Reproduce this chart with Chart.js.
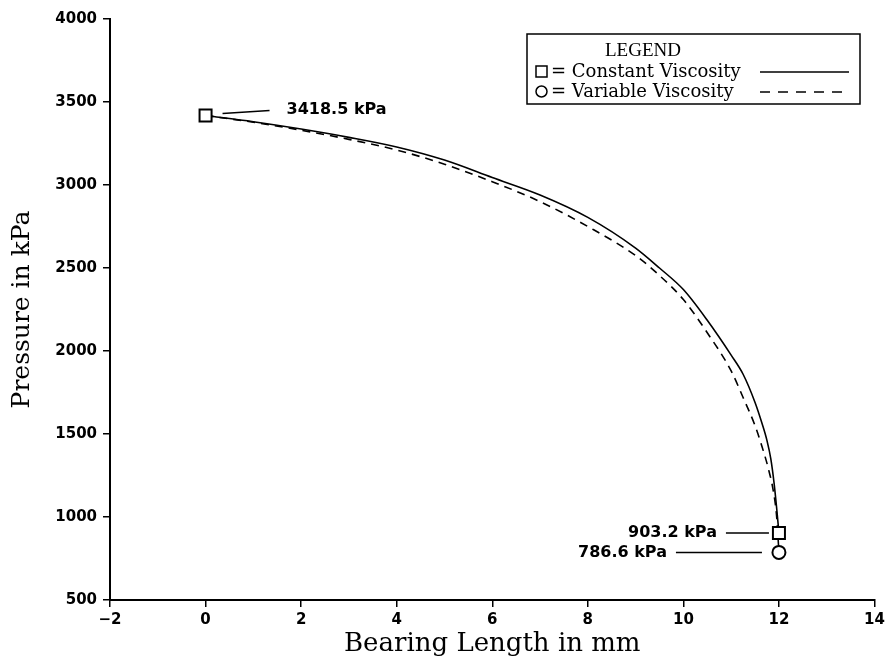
<!DOCTYPE html>
<html>
<head>
<meta charset="utf-8">
<script src="https://cdn.jsdelivr.net/npm/chart.js@4"></script>
<style>
  html, body { margin: 0; padding: 0; background: #fff; }
  #wrap { width: 885px; height: 662px; }
</style>
</head>
<body>
<div id="wrap"><canvas id="myChart" width="885" height="662"></canvas></div>
<script>
// Bearing length (mm) and pressure (kPa)
const constLength = [0, 1, 2, 3, 4, 5, 6, 7, 8, 9, 9.5, 10, 10.5, 11, 11.25, 11.5, 11.65, 11.75, 11.83, 11.9, 11.95, 12];
const constPressure = [3418.5, 3381, 3337, 3287, 3229, 3150, 3045, 2940, 2805, 2620, 2500, 2370, 2185, 1975, 1860, 1690, 1560, 1460, 1350, 1200, 1060, 903.2];

const varLength = [0, 1, 2, 3, 4, 5, 6, 7, 8, 9, 9.5, 10, 10.5, 11, 11.25, 11.5, 11.65, 11.78, 11.88, 11.95, 12];
const varPressure = [3418.5, 3378, 3330, 3275, 3211, 3125, 3020, 2900, 2750, 2575, 2455, 2310, 2110, 1880, 1720, 1550, 1420, 1290, 1160, 1010, 786.6];

const xTicks = [-2, 0, 2, 4, 6, 8, 10, 12, 14];
const yTicks = [500, 1000, 1500, 2000, 2500, 3000, 3500, 4000];

const seriesNames = ['Constant Viscosity', 'Variable Viscosity'];

const tickFont = { family: 'DejaVu Sans', weight: 'bold', size: 15 };
const serif = 'DejaVu Serif';

function toPoints(xs, ys) {
    return xs.map((v, i) => ({ x: v, y: ys[i] }));
}

// labels next to the end points, legend box
const notesPlugin = {
    id: 'notes',
    afterDraw(chart) {
        const ctx = chart.ctx;
        const x = chart.scales.x;
        const y = chart.scales.y;
        ctx.save();
        ctx.strokeStyle = '#000';
        ctx.fillStyle = '#000';
        ctx.lineWidth = 1.5;

        // start value
        const sx = x.getPixelForValue(constLength[0]);
        const sy = y.getPixelForValue(constPressure[0]);
        ctx.beginPath();
        ctx.moveTo(sx + 17, sy - 2);
        ctx.lineTo(sx + 64, sy - 5);
        ctx.stroke();
        ctx.font = 'bold 16px DejaVu Sans';
        ctx.textBaseline = 'middle';
        ctx.textAlign = 'left';
        ctx.fillText(constPressure[0] + ' kPa', sx + 81, sy - 6);

        // end values
        const last = constLength.length - 1;
        const ex = x.getPixelForValue(constLength[last]);
        const ey1 = y.getPixelForValue(constPressure[last]);
        const ey2 = y.getPixelForValue(varPressure[varPressure.length - 1]);
        ctx.beginPath();
        ctx.moveTo(ex - 53, ey1);
        ctx.lineTo(ex - 10, ey1);
        ctx.moveTo(ex - 103, ey2);
        ctx.lineTo(ex - 17, ey2);
        ctx.stroke();
        ctx.textAlign = 'right';
        ctx.fillText(constPressure[last].toFixed(1) + ' kPa', ex - 62, ey1);
        ctx.fillText(varPressure[varPressure.length - 1].toFixed(1) + ' kPa', ex - 112, ey2);

        // legend box
        const bx = 527, by = 34, bw = 333, bh = 70;
        ctx.lineWidth = 1.5;
        ctx.strokeRect(bx, by, bw, bh);
        ctx.textAlign = 'center';
        ctx.font = '19px "Liberation Serif"';
        ctx.fillText('LEGEND', 643, 51);

        ctx.textAlign = 'left';
        ctx.font = '18px ' + serif;
        // square marker
        ctx.strokeRect(536, 66, 11, 11);
        ctx.fillText('= ' + seriesNames[0], 551, 72);
        // circle marker
        ctx.beginPath();
        ctx.arc(541.5, 91.5, 5.5, 0, Math.PI * 2);
        ctx.stroke();
        ctx.fillText('= ' + seriesNames[1], 551, 92);

        ctx.beginPath();
        ctx.moveTo(760, 72);
        ctx.lineTo(849, 72);
        ctx.stroke();
        ctx.setLineDash([10, 8]);
        ctx.beginPath();
        ctx.moveTo(760, 92);
        ctx.lineTo(849, 92);
        ctx.stroke();
        ctx.restore();
    }
};

const lastConst = constLength.length - 1;
const lastVar = varLength.length - 1;

const myChart = document.getElementById('myChart');

new Chart(myChart, {
    type: 'scatter',
    data: {
        datasets: [
            {
                label: seriesNames[0],
                data: toPoints(constLength, constPressure),
                showLine: true,
                borderColor: '#000',
                borderWidth: 1.6,
                cubicInterpolationMode: 'monotone',
                pointStyle: 'rect',
                pointRadius: ctx => (ctx.dataIndex === 0 || ctx.dataIndex === lastConst) ? 8.5 : 0,
                pointBorderWidth: 2,
                pointBorderColor: '#000',
                pointBackgroundColor: '#fff'
            },
            {
                label: seriesNames[1],
                data: toPoints(varLength, varPressure),
                showLine: true,
                borderColor: '#000',
                borderWidth: 1.6,
                borderDash: [8, 6],
                cubicInterpolationMode: 'monotone',
                pointStyle: 'circle',
                pointRadius: ctx => ctx.dataIndex === lastVar ? 6.5 : 0,
                pointBorderWidth: 2,
                pointBorderColor: '#000',
                pointBackgroundColor: '#fff'
            }
        ]
    },
    options: {
        responsive: false,
        animation: false,
        layout: { padding: { top: 19, right: 9, left: 0, bottom: 0 } },
        plugins: {
            legend: { display: false },
            tooltip: { enabled: false }
        },
        scales: {
            x: {
                type: 'linear',
                min: -2,
                max: 14,
                afterBuildTicks: scale => { scale.ticks = xTicks.map(v => ({ value: v })); },
                afterFit: scale => {
                    scale.height = 62;
                    scale.paddingLeft = 0;
                    scale.paddingRight = 0;
                },
                ticks: {
                    color: '#000',
                    font: tickFont,
                    padding: 4,
                    callback: v => String(v).replace('-', '\u2212')
                },
                grid: { drawOnChartArea: false, drawTicks: true, tickLength: 7, color: '#000', lineWidth: 1.5 },
                border: { display: true, color: '#000', width: 2 },
                title: {
                    display: true,
                    text: 'Bearing Length in mm',
                    color: '#000',
                    font: { family: serif, size: 26 },
                    padding: { top: 0, bottom: 2 }
                }
            },
            y: {
                type: 'linear',
                min: 500,
                max: 4000,
                afterBuildTicks: scale => { scale.ticks = yTicks.map(v => ({ value: v })); },
                afterFit: scale => { scale.width = 110; },
                ticks: {
                    color: '#000',
                    font: tickFont,
                    padding: 6,
                    callback: v => String(v)
                },
                grid: { drawOnChartArea: false, drawTicks: true, tickLength: 7, color: '#000', lineWidth: 1.5 },
                border: { display: true, color: '#000', width: 2 },
                title: {
                    display: true,
                    text: 'Pressure in kPa',
                    color: '#000',
                    font: { family: serif, size: 25 },
                    padding: { top: 7, bottom: 0 }
                }
            }
        }
    },
    plugins: [notesPlugin]
});
</script>
</body>
</html>
